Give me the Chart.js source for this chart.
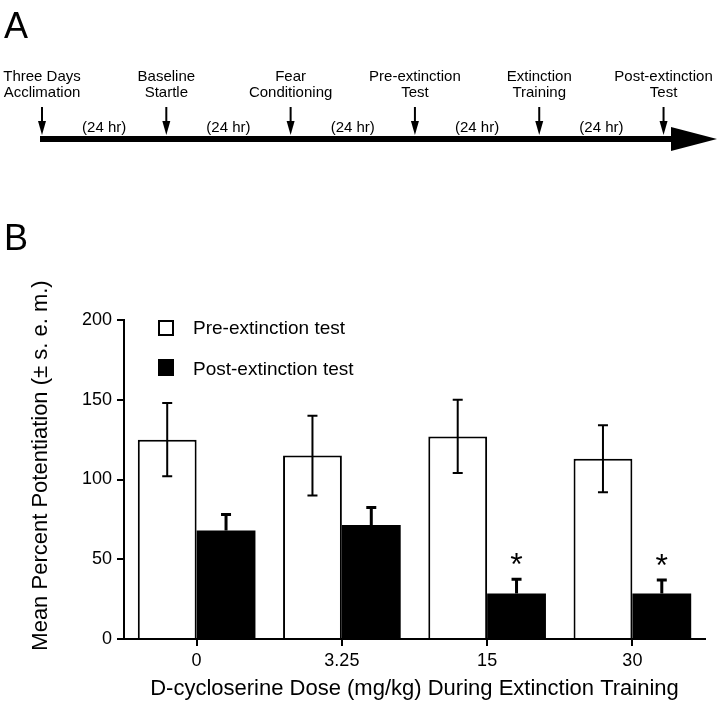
<!DOCTYPE html>
<html>
<head>
<meta charset="utf-8">
<script src="https://cdn.jsdelivr.net/npm/chart.js@4.4.0/dist/chart.umd.min.js"></script>
<style>
  html, body { margin: 0; padding: 0; background: #fff; }
  #wrap { position: relative; width: 720px; height: 716px; overflow: hidden; }
  #timelineChart { position: absolute; left: 0; top: 0; }
  #doseChart { position: absolute; left: 0; top: 180px; }
</style>
</head>
<body>
<div id="wrap">
  <canvas id="timelineChart" width="720" height="180"></canvas>
  <canvas id="doseChart" width="720" height="536"></canvas>
</div>
<script>
// Panel A: timeline of the procedure (days)
const eventDays = [0, 1, 2, 3, 4, 5];
const eventLabels = [
  ["Three Days", "Acclimation"],
  ["Baseline", "Startle"],
  ["Fear", "Conditioning"],
  ["Pre-extinction", "Test"],
  ["Extinction", "Training"],
  ["Post-extinction", "Test"]
];
const intervalLabel = "(24 hr)";
const timelineEnd = 5.43;

// Panel B: potentiation by dose
const doses = ["0", "3.25", "15", "30"];
const preMeans = [125, 115, 127, 113];
const preSem = [23, 25, 23, 21];
const postMeans = [68, 71.5, 28.5, 28.5];
const postSem = [10, 11, 9, 8.5];
const significant = [false, false, true, true];

const FONT = "'Liberation Sans', Arial, Helvetica, sans-serif";
Chart.defaults.font.family = FONT;
Chart.defaults.color = "#000";

// desenha a linha do tempo, setas e textos
const timelinePlugin = {
  id: "timeline",
  afterDraw(chart) {
    const ctx = chart.ctx;
    const xs = chart.scales.x;
    const y0 = chart.scales.y.getPixelForValue(0);
    const tipX = xs.getPixelForValue(timelineEnd);
    const headLen = 46;

    ctx.save();
    ctx.fillStyle = "#000";
    ctx.strokeStyle = "#000";

    // barra principal
    ctx.fillRect(xs.getPixelForValue(eventDays[0]) - 2, y0 - 3, tipX - headLen - xs.getPixelForValue(eventDays[0]) + 4, 6);
    ctx.beginPath();
    ctx.moveTo(tipX - headLen, y0 - 12);
    ctx.lineTo(tipX, y0);
    ctx.lineTo(tipX - headLen, y0 + 12);
    ctx.closePath();
    ctx.fill();

    ctx.font = "15px " + FONT;
    ctx.textAlign = "center";
    ctx.textBaseline = "alphabetic";

    eventDays.forEach((d, i) => {
      const x = xs.getPixelForValue(d);
      // seta para baixo
      ctx.lineWidth = 2;
      ctx.beginPath();
      ctx.moveTo(x, y0 - 32);
      ctx.lineTo(x, y0 - 14);
      ctx.stroke();
      ctx.beginPath();
      ctx.moveTo(x - 4, y0 - 18);
      ctx.lineTo(x + 4, y0 - 18);
      ctx.lineTo(x, y0 - 4);
      ctx.closePath();
      ctx.fill();

      ctx.fillText(eventLabels[i][0], x, y0 - 58);
      ctx.fillText(eventLabels[i][1], x, y0 - 42);

      if (i < eventDays.length - 1) {
        const mid = xs.getPixelForValue((d + eventDays[i + 1]) / 2);
        ctx.fillText(intervalLabel, mid, y0 - 7);
      }
    });

    ctx.textAlign = "left";
    ctx.font = "36px " + FONT;
    ctx.fillText("A", 4, 38);
    ctx.restore();
  }
};

new Chart(document.getElementById("timelineChart"), {
  type: "scatter",
  data: {
    datasets: [{
      data: eventDays.map(d => ({ x: d, y: 0 })),
      pointRadius: 0
    }]
  },
  options: {
    responsive: false,
    animation: false,
    devicePixelRatio: 1,
    layout: { padding: { left: 42, right: 3, top: 98, bottom: 0 } },
    scales: {
      x: { type: "linear", min: 0, max: timelineEnd, display: false },
      y: { min: -1, max: 1, display: false }
    },
    plugins: { legend: { display: false }, tooltip: { enabled: false } }
  },
  plugins: [timelinePlugin]
});

// barras de erro e asteriscos
const errorBars = {
  id: "errorBars",
  afterDatasetsDraw(chart) {
    const ctx = chart.ctx;
    const ys = chart.scales.y;
    ctx.save();
    ctx.strokeStyle = "#000";
    ctx.fillStyle = "#000";
    chart.data.datasets.forEach((ds, i) => {
      const meta = chart.getDatasetMeta(i);
      meta.data.forEach((bar, j) => {
        const top = ys.getPixelForValue(ds.data[j] + ds.sem[j]);
        const bottom = ds.twoSided ? ys.getPixelForValue(ds.data[j] - ds.sem[j]) : bar.y;
        ctx.lineWidth = ds.twoSided ? 2 : 3;
        ctx.beginPath();
        ctx.moveTo(bar.x, top);
        ctx.lineTo(bar.x, bottom);
        ctx.moveTo(bar.x - 5, top);
        ctx.lineTo(bar.x + 5, top);
        if (ds.twoSided) {
          ctx.moveTo(bar.x - 5, bottom);
          ctx.lineTo(bar.x + 5, bottom);
        }
        ctx.stroke();

        if (ds.stars && ds.stars[j]) {
          ctx.font = "32px " + FONT;
          ctx.textAlign = "center";
          ctx.textBaseline = "alphabetic";
          ctx.fillText("*", bar.x, top - 4);
        }
      });
    });
    ctx.restore();
  }
};

// legenda, titulo do eixo y e letra B
const extras = {
  id: "extras",
  afterDraw(chart) {
    const ctx = chart.ctx;
    const area = chart.chartArea;
    const ds = chart.data.datasets;
    ctx.save();

    const bx = area.left + 34;
    const tx = area.left + 69;
    ctx.lineWidth = 2;
    ctx.strokeStyle = "#000";
    ctx.fillStyle = ds[0].backgroundColor;
    ctx.fillRect(bx, area.top, 16, 16);
    ctx.strokeRect(bx + 1, area.top + 1, 14, 14);
    ctx.fillStyle = ds[1].backgroundColor;
    ctx.fillRect(bx, area.top + 39, 16, 17);

    ctx.fillStyle = "#000";
    ctx.font = "19px " + FONT;
    ctx.textAlign = "left";
    ctx.textBaseline = "middle";
    ctx.fillText(ds[0].label, tx, area.top + 9);
    ctx.fillText(ds[1].label, tx, area.top + 50);

    // titulo do eixo y
    ctx.save();
    ctx.translate(41, (area.top + area.bottom) / 2 - 14);
    ctx.rotate(-Math.PI / 2);
    ctx.textAlign = "center";
    ctx.font = "22px " + FONT;
    ctx.fillText("Mean Percent Potentiation (\u00b1 s. e. m.)", 0, 0);
    ctx.restore();

    ctx.textAlign = "left";
    ctx.textBaseline = "alphabetic";
    ctx.font = "36px " + FONT;
    ctx.fillText("B", 4, 70);
    ctx.restore();
  }
};

new Chart(document.getElementById("doseChart"), {
  type: "bar",
  data: {
    labels: doses,
    datasets: [
      {
        label: "Pre-extinction test",
        data: preMeans,
        sem: preSem,
        twoSided: true,
        backgroundColor: "#fff",
        borderColor: "#000",
        borderWidth: 2,
        categoryPercentage: 0.81,
        barPercentage: 1
      },
      {
        label: "Post-extinction test",
        data: postMeans,
        sem: postSem,
        stars: significant,
        backgroundColor: "#000",
        borderColor: "#000",
        borderWidth: 0,
        categoryPercentage: 0.81,
        barPercentage: 1
      }
    ]
  },
  options: {
    responsive: false,
    animation: false,
    devicePixelRatio: 1,
    layout: { padding: { top: 140, right: 15, left: 0, bottom: 0 } },
    plugins: { legend: { display: false }, tooltip: { enabled: false } },
    scales: {
      x: {
        grid: { offset: false, drawOnChartArea: false, tickLength: 7, color: "#000", lineWidth: 2 },
        border: { color: "#000", width: 2, z: 1 },
        ticks: { color: "#000", font: { size: 18 }, padding: 4 },
        title: {
          display: true,
          text: "D-cycloserine Dose (mg/kg) During Extinction Training",
          color: "#000",
          font: { size: 22 },
          padding: { top: 4, bottom: 14 }
        },
        afterFit: s => { s.height = 77; }
      },
      y: {
        min: 0,
        max: 200,
        grid: { drawOnChartArea: false, tickLength: 7, color: "#000", lineWidth: 2 },
        border: { color: "#000", width: 2, z: 1 },
        ticks: { stepSize: 50, color: "#000", font: { size: 18 }, padding: 5 },
        afterFit: s => { s.width = 124; }
      }
    }
  },
  plugins: [errorBars, extras]
});
</script>
</body>
</html>
